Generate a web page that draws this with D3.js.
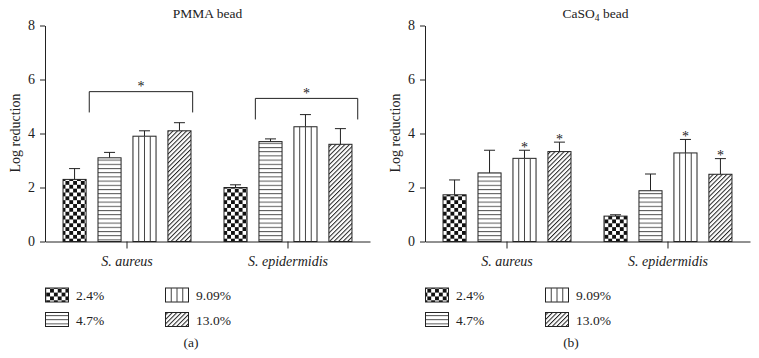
<!DOCTYPE html>
<html>
<head>
<meta charset="utf-8">
<script src="https://cdn.jsdelivr.net/npm/d3@7"></script>
<style>
  body { margin: 0; background: #fff; }
  svg text { font-family: "Liberation Serif", "DejaVu Serif", serif; fill: #222; }
</style>
</head>
<body>
<svg width="759" height="358"></svg>
<script>
// data
const groups = ["S. aureus", "S. epidermidis"];
const series = ["2.4%", "4.7%", "9.09%", "13.0%"];
const yTicks = [0, 2, 4, 6, 8];

const pmmaMean = [[2.3, 3.1, 3.9, 4.1], [2.0, 3.7, 4.25, 3.6]];
const pmmaErr = [[0.4, 0.2, 0.2, 0.3], [0.1, 0.1, 0.45, 0.58]];
const pmmaBrackets = [
  {group: "S. aureus", top: 5.55, leg: 4.78},
  {group: "S. epidermidis", top: 5.3, leg: 4.52}
];

const casoMean = [[1.73, 2.54, 3.08, 3.33], [0.94, 1.88, 3.28, 2.49]];
const casoErr = [[0.55, 0.84, 0.3, 0.35], [0.05, 0.62, 0.5, 0.58]];
const casoStars = [[0, 0, 1, 1], [0, 0, 1, 1]];

const fills = ["checker", "hlines", "vlines", "diag"];
const ink = "#222";

const svg = d3.select("svg");

// patterns
const defs = svg.append("defs");
const chk = defs.append("pattern").attr("id", "checker")
    .attr("patternUnits", "userSpaceOnUse").attr("width", 7.7).attr("height", 7.7);
chk.append("rect").attr("width", 7.7).attr("height", 7.7).attr("fill", "#fff");
chk.append("rect").attr("width", 3.85).attr("height", 3.85).attr("fill", "#111");
chk.append("rect").attr("x", 3.85).attr("y", 3.85).attr("width", 3.85).attr("height", 3.85).attr("fill", "#111");

const hl = defs.append("pattern").attr("id", "hlines")
    .attr("patternUnits", "userSpaceOnUse").attr("width", 8).attr("height", 4.2);
hl.append("rect").attr("width", 8).attr("height", 4.2).attr("fill", "#fff");
hl.append("line").attr("x1", 0).attr("x2", 8).attr("y1", 0.5).attr("y2", 0.5)
    .attr("stroke", "#555").attr("stroke-width", 1);

const dg = defs.append("pattern").attr("id", "diag")
    .attr("patternUnits", "userSpaceOnUse").attr("width", 3.2).attr("height", 8)
    .attr("patternTransform", "rotate(45)");
dg.append("rect").attr("width", 3.2).attr("height", 8).attr("fill", "#fff");
dg.append("line").attr("x1", 0.5).attr("x2", 0.5).attr("y1", 0).attr("y2", 8)
    .attr("stroke", "#222").attr("stroke-width", 1);

function drawFill(g, type, x, y, w, h) {
  g.append("rect")
      .attr("x", x).attr("y", y).attr("width", w).attr("height", h)
      .attr("fill", type === "vlines" ? "#fff" : "url(#" + type + ")")
      .attr("stroke", ink).attr("stroke-width", 1);
  if (type === "vlines") {
    [1, 2, 3].forEach(k => {
      g.append("line")
          .attr("x1", x + w * k / 4).attr("x2", x + w * k / 4)
          .attr("y1", y).attr("y2", y + h)
          .attr("stroke", "#444").attr("stroke-width", 1);
    });
  }
}

function panel(opt) {
  const g = svg.append("g");

  const y = d3.scaleLinear().domain([0, 8]).range([241.5, 25.5]);
  const x = d3.scaleBand().domain(groups)
      .range([opt.left, opt.left + 325])
      .paddingInner(0.205).paddingOuter(0.112);
  const xi = d3.scaleBand().domain(series)
      .range([0, x.bandwidth()])
      .paddingInner(0.34).paddingOuter(0);

  // title
  const t = g.append("text")
      .attr("x", opt.left + 162.5 + opt.titleShift).attr("y", 17.5)
      .attr("text-anchor", "middle").style("font-size", "13.5px");
  opt.title(t);

  // y label
  g.append("text")
      .attr("transform", "translate(" + (opt.left - 25) + "," + 133 + ") rotate(-90)")
      .attr("text-anchor", "middle").style("font-size", "14px")
      .text("Log reduction");

  // bars
  groups.forEach((grp, gi) => {
    series.forEach((s, si) => {
      const bx = x(grp) + xi(s);
      const bw = xi.bandwidth();
      const v = opt.mean[gi][si];
      const top = v + opt.err[gi][si];
      // error bar (upper only)
      g.append("line")
          .attr("x1", bx + bw / 2).attr("x2", bx + bw / 2)
          .attr("y1", y(v)).attr("y2", y(top))
          .attr("stroke", ink).attr("stroke-width", 1);
      g.append("line")
          .attr("x1", bx + bw / 2 - 5.5).attr("x2", bx + bw / 2 + 5.5)
          .attr("y1", y(top)).attr("y2", y(top))
          .attr("stroke", ink).attr("stroke-width", 1);
      drawFill(g, fills[si], bx, y(v), bw, y(0) - y(v));
      if (opt.stars && opt.stars[gi][si]) {
        g.append("text")
            .attr("x", bx + bw / 2).attr("y", y(top) + 1.5)
            .attr("text-anchor", "middle").style("font-size", "14px")
            .text("*");
      }
    });
  });

  // significance brackets
  (opt.brackets || []).forEach((b, bi) => {
    const x0 = x(b.group) + x.bandwidth() * (bi === 0 ? 0.205 : 0.245);
    const x1 = x(b.group) + x.bandwidth() * (bi === 0 ? 1.013 : 1.045);
    g.append("path")
        .attr("d", "M" + x0 + "," + y(b.leg) + "V" + y(b.top) + "H" + x1 + "V" + y(b.leg))
        .attr("fill", "none").attr("stroke", ink).attr("stroke-width", 1);
    g.append("text")
        .attr("x", (x0 + x1) / 2).attr("y", y(b.top) - 0.5)
        .attr("text-anchor", "middle").style("font-size", "14px")
        .text("*");
  });

  // axes
  const ya = g.append("g")
      .attr("transform", "translate(" + opt.left + ",0)")
      .call(d3.axisLeft(y).tickValues(yTicks).tickSize(5).tickSizeOuter(0).tickPadding(5));
  const xa = g.append("g")
      .attr("transform", "translate(0," + y(0) + ")")
      .call(d3.axisBottom(x).tickSize(7).tickSizeOuter(0).tickPadding(8));
  [ya, xa].forEach(a => {
    a.select(".domain").attr("stroke", ink);
    a.selectAll(".tick line").attr("stroke", ink);
    a.selectAll("text").style("font-size", "14px").attr("fill", ink)
        .style("font-family", "'Liberation Serif', serif");
  });
  xa.selectAll("text").style("font-style", "italic");

  // legend
  series.forEach((s, si) => {
    const col = Math.floor(si / 2), row = si % 2;
    const lx = opt.left + col * 120;
    const ly = 288 + row * 24.5;
    drawFill(g, fills[si], lx + 0.5, ly, 23, 14);
    g.append("text")
        .attr("x", lx + 31).attr("y", ly + 12)
        .style("font-size", "13.5px")
        .text(s);
  });

  g.append("text")
      .attr("x", opt.left + 146).attr("y", 346.5)
      .attr("text-anchor", "middle").style("font-size", "13.5px")
      .text(opt.tag);
}

panel({
  left: 45, titleShift: 0, tag: "(a)",
  title: t => t.text("PMMA bead"),
  mean: pmmaMean, err: pmmaErr, brackets: pmmaBrackets
});

panel({
  left: 425, titleShift: 8, tag: "(b)",
  title: t => {
    t.append("tspan").text("CaSO");
    t.append("tspan").attr("dy", 3).style("font-size", "9.5px").text("4");
    t.append("tspan").attr("dy", -3).text(" bead");
  },
  mean: casoMean, err: casoErr, stars: casoStars
});
</script>
</body>
</html>
